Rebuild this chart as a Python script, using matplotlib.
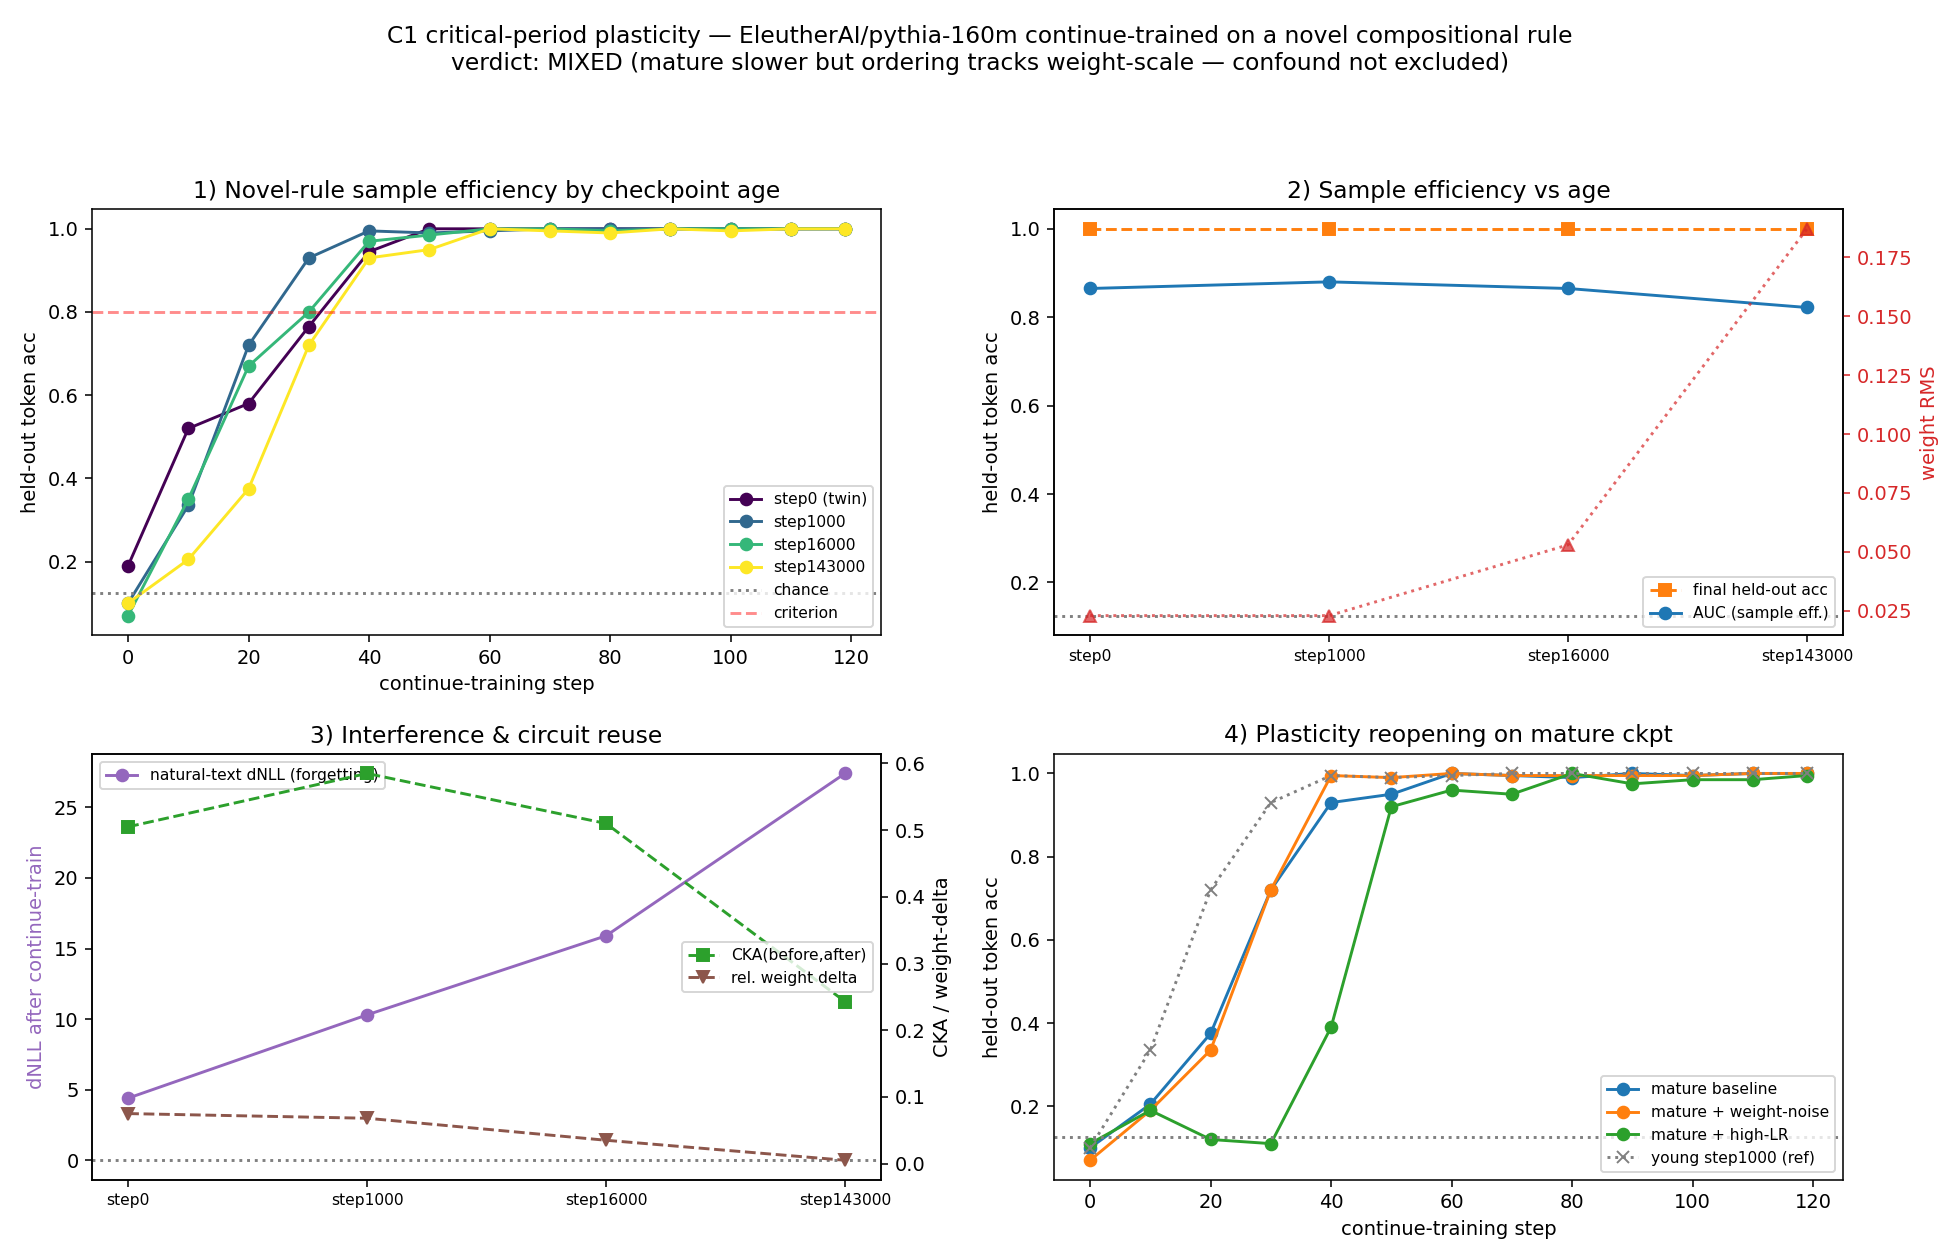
import matplotlib
matplotlib.use("Agg")
import matplotlib.pyplot as plt

steps = [0, 10, 20, 30, 40, 50, 60, 70, 80, 90, 100, 110, 119]
acc_step0 = [0.19, 0.52, 0.58, 0.765, 0.945, 1.0, 1.0, 1.0, 1.0, 1.0, 1.0, 1.0, 1.0]
acc_step1000 = [0.10, 0.335, 0.72, 0.93, 0.995, 0.99, 0.995, 1.0, 1.0, 1.0, 1.0, 1.0, 1.0]
acc_step16000 = [0.07, 0.35, 0.67, 0.80, 0.97, 0.985, 1.0, 1.0, 0.995, 1.0, 1.0, 1.0, 1.0]
acc_step143000 = [0.10, 0.205, 0.375, 0.72, 0.93, 0.95, 1.0, 0.995, 0.99, 1.0, 0.995, 1.0, 1.0]
acc_noise = [0.07, 0.19, 0.335, 0.72, 0.995, 0.99, 1.0, 0.995, 0.995, 0.995, 0.995, 1.0, 1.0]
acc_highlr = [0.11, 0.19, 0.12, 0.11, 0.39, 0.92, 0.96, 0.95, 1.0, 0.975, 0.985, 0.985, 0.995]

ckpts = ["step0", "step1000", "step16000", "step143000"]
final_acc = [1.0, 1.0, 1.0, 1.0]
auc = [0.865, 0.88, 0.865, 0.822]
weight_rms = [0.023, 0.023, 0.053, 0.187]
dnll = [4.4, 10.3, 15.9, 27.4]
cka = [0.505, 0.585, 0.51, 0.243]
rel_delta = [0.075, 0.068, 0.035, 0.005]
chance = 0.125
criterion = 0.8

fig, axes = plt.subplots(2, 2, figsize=(14, 9), dpi=140)
fig.suptitle("C1 critical-period plasticity — EleutherAI/pythia-160m continue-trained on a novel compositional rule\n"
             "verdict: MIXED (mature slower but ordering tracks weight-scale — confound not excluded)")

# 1
ax = axes[0, 0]
cmap = plt.get_cmap("viridis")
for i, (lab, ys) in enumerate([("step0 (twin)", acc_step0), ("step1000", acc_step1000),
                               ("step16000", acc_step16000), ("step143000", acc_step143000)]):
    ax.plot(steps, ys, "o-", color=cmap(i / 3), label=lab)
ax.axhline(chance, color="gray", ls=":", label="chance")
ax.axhline(criterion, color="red", ls="--", alpha=0.45, label="criterion")
ax.set_title("1) Novel-rule sample efficiency by checkpoint age")
ax.set_xlabel("continue-training step")
ax.set_ylabel("held-out token acc")
ax.legend(fontsize=8, loc="lower right")

# 2
ax = axes[0, 1]
x = range(len(ckpts))
ax.plot(x, final_acc, "s--", color="tab:orange", label="final held-out acc")
ax.plot(x, auc, "o-", color="tab:blue", label="AUC (sample eff.)")
ax.axhline(chance, color="gray", ls=":")
ax.set_xticks(list(x))
ax.set_xticklabels(ckpts, fontsize=8)
ax.set_ylabel("held-out token acc")
ax.set_title("2) Sample efficiency vs age")
ax.legend(fontsize=8, loc="lower right")
ax2 = ax.twinx()
ax2.plot(x, weight_rms, "^:", color="tab:red", alpha=0.7)
ax2.set_ylabel("weight RMS", color="tab:red")
ax2.tick_params(axis="y", colors="tab:red")

# 3
ax = axes[1, 0]
ax.plot(x, dnll, "o-", color="tab:purple", label="natural-text dNLL (forgetting)")
ax.axhline(0, color="gray", ls=":")
ax.set_xticks(list(x))
ax.set_xticklabels(ckpts, fontsize=8)
ax.set_ylabel("dNLL after continue-train", color="tab:purple")
ax.set_title("3) Interference & circuit reuse")
ax.legend(fontsize=8, loc="upper left")
ax2 = ax.twinx()
ax2.plot(x, cka, "s--", color="tab:green", label="CKA(before,after)")
ax2.plot(x, rel_delta, "v--", color="tab:brown", label="rel. weight delta")
ax2.set_ylabel("CKA / weight-delta")
ax2.legend(fontsize=8, loc="center right")

# 4
ax = axes[1, 1]
ax.plot(steps, acc_step143000, "o-", color="tab:blue", label="mature baseline")
ax.plot(steps, acc_noise, "o-", color="tab:orange", label="mature + weight-noise")
ax.plot(steps, acc_highlr, "o-", color="tab:green", label="mature + high-LR")
ax.plot(steps, acc_step1000, "x:", color="gray", label="young step1000 (ref)")
ax.axhline(chance, color="gray", ls=":")
ax.set_title("4) Plasticity reopening on mature ckpt")
ax.set_xlabel("continue-training step")
ax.set_ylabel("held-out token acc")
ax.legend(fontsize=8, loc="lower right")

fig.tight_layout(rect=[0, 0, 1, 0.93])
fig.subplots_adjust(hspace=0.28, wspace=0.22)
fig.savefig("out.png")
